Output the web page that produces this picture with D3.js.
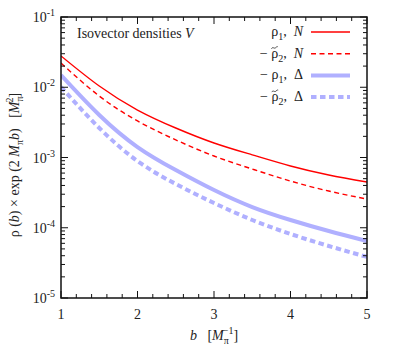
<!DOCTYPE html>
<html>
<head>
<meta charset="utf-8">
<script src="https://cdn.jsdelivr.net/npm/d3@7"></script>
<style>
  body { margin: 0; background: #fff; }
  svg text { font-family: "Liberation Serif", "Times New Roman", "DejaVu Serif", serif; fill: #222; }
</style>
</head>
<body>
<div id="chart"></div>
<script>
// values
var bValues = [1, 1.5, 2, 2.5, 3, 3.5, 4, 4.5, 5];
var rho1N = [2.79e-2, 1.04e-2, 4.74e-3, 2.63e-3, 1.61e-3, 1.09e-3, 7.57e-4, 5.64e-4, 4.48e-4];
var rho2N = [2.21e-2, 7.50e-3, 3.31e-3, 1.78e-3, 1.05e-3, 6.85e-4, 4.62e-4, 3.33e-4, 2.56e-4];
var rho1D = [1.49e-2, 4.03e-3, 1.41e-3, 6.63e-4, 3.44e-4, 1.97e-4, 1.29e-4, 8.99e-5, 6.48e-5];
var rho2D = [1.01e-2, 2.63e-3, 8.91e-4, 4.20e-4, 2.25e-4, 1.29e-4, 8.15e-5, 5.50e-5, 3.84e-5];
var xTicks = [1, 2, 3, 4, 5];
var yExps = [-1, -2, -3, -4, -5];

var svgWidth = 399, svgHeight = 359;
var margin = {top: 17, right: 32, bottom: 61, left: 61};
var width = svgWidth - margin.left - margin.right;
var height = svgHeight - margin.top - margin.bottom;
var serif = "Liberation Serif, Times New Roman, serif";

var svg = d3.select("#chart").append("svg")
  .attr("width", svgWidth)
  .attr("height", svgHeight)
  .attr("font-family", serif);

var g = svg.append("g")
  .attr("transform", `translate(${margin.left}, ${margin.top})`);

var x = d3.scaleLinear().domain([1, 5]).range([0, width]);
var y = d3.scaleLog().domain([1e-5, 1e-1]).range([height, 0]);

var red = "#ff0000", blue = "#b0b0ff";

var series = [
  {vals: rho1N, color: red, w: 1.4, dash: null},
  {vals: rho2N, color: red, w: 1.4, dash: "5,3.5"},
  {vals: rho1D, color: blue, w: 4, dash: null},
  {vals: rho2D, color: blue, w: 4, dash: "5.5,3.5"}
];

var line = d3.line()
  .x(d => x(d[0]))
  .y(d => y(d[1]))
  .curve(d3.curveNatural);

g.append("clipPath").attr("id", "clip")
  .append("rect").attr("width", width).attr("height", height);

series.forEach(function(s) {
  g.append("path")
    .datum(bValues.map((b, i) => [b, s.vals[i]]))
    .attr("clip-path", "url(#clip)")
    .attr("fill", "none")
    .attr("stroke", s.color)
    .attr("stroke-width", s.w)
    .attr("stroke-dasharray", s.dash)
    .attr("d", line);
});

// ticks inside, on all four sides
var minorX = d3.range(1, 5.001, 0.2);
var minorY = [];
yExps.forEach(function(e) {
  for (var k = 2; k <= 9; k++) {
    var v = k * Math.pow(10, e);
    if (v < 1e-1) minorY.push(v);
  }
});

minorX.forEach(function(v) {
  var major = xTicks.some(t => Math.abs(t - v) < 1e-6);
  var len = major ? 7 : 4;
  g.append("line").attr("x1", x(v)).attr("x2", x(v)).attr("y1", height).attr("y2", height - len)
    .attr("stroke", "#111").attr("stroke-width", 1);
  g.append("line").attr("x1", x(v)).attr("x2", x(v)).attr("y1", 0).attr("y2", len)
    .attr("stroke", "#111").attr("stroke-width", 1);
});

yExps.forEach(function(e) {
  var v = Math.pow(10, e);
  g.append("line").attr("x1", 0).attr("x2", 7).attr("y1", y(v)).attr("y2", y(v))
    .attr("stroke", "#111").attr("stroke-width", 1);
  g.append("line").attr("x1", width).attr("x2", width - 7).attr("y1", y(v)).attr("y2", y(v))
    .attr("stroke", "#111").attr("stroke-width", 1);
});
minorY.forEach(function(v) {
  g.append("line").attr("x1", 0).attr("x2", 4).attr("y1", y(v)).attr("y2", y(v))
    .attr("stroke", "#111").attr("stroke-width", 1);
  g.append("line").attr("x1", width).attr("x2", width - 4).attr("y1", y(v)).attr("y2", y(v))
    .attr("stroke", "#111").attr("stroke-width", 1);
});

g.append("rect")
  .attr("width", width).attr("height", height)
  .attr("fill", "none").attr("stroke", "#111").attr("stroke-width", 1.5);

// tick labels
xTicks.forEach(function(t) {
  g.append("text")
    .attr("x", x(t)).attr("y", height + 21)
    .attr("text-anchor", "middle")
    .attr("font-size", 14)
    .text(t);
});

yExps.forEach(function(e) {
  var t = g.append("text")
    .attr("x", -6).attr("y", y(Math.pow(10, e)) + 5)
    .attr("text-anchor", "end")
    .attr("font-size", 14);
  t.append("tspan").text("10");
  t.append("tspan").attr("dy", -6).attr("font-size", 10).text("-" + (-e));
});

// axis labels
var xl = svg.append("text")
  .attr("x", margin.left + width / 2).attr("y", 340)
  .attr("text-anchor", "middle")
  .attr("font-size", 14);
xl.append("tspan").attr("font-style", "italic").text("b");
xl.append("tspan").text("\u2002 [");
xl.append("tspan").attr("font-style", "italic").text("M");
xl.append("tspan").attr("dy", 4).attr("font-size", 10).text("\u03c0");
xl.append("tspan").attr("dy", -10).attr("dx", -6).attr("font-size", 10).text("\u22121");
xl.append("tspan").attr("dy", 6).text("]");

var yl = svg.append("text")
  .attr("transform", "translate(19, 165) rotate(-90)")
  .attr("text-anchor", "middle")
  .attr("font-size", 14);
yl.append("tspan").text("\u03c1 (");
yl.append("tspan").attr("font-style", "italic").text("b");
yl.append("tspan").text(") \u00d7 exp (2 ");
yl.append("tspan").attr("font-style", "italic").text("M");
yl.append("tspan").attr("dy", 4).attr("font-size", 10).text("\u03c0");
yl.append("tspan").attr("dy", -4).attr("font-style", "italic").text("b");
yl.append("tspan").text(")\u2002 [");
yl.append("tspan").attr("font-style", "italic").text("M");
yl.append("tspan").attr("dy", 4).attr("font-size", 10).text("\u03c0");
yl.append("tspan").attr("dy", -10).attr("dx", -6).attr("font-size", 10).text("2");
yl.append("tspan").attr("dy", 6).text("]");

// title inside plot
var title = g.append("text")
  .attr("x", 16).attr("y", 21)
  .attr("font-size", 14);
title.append("tspan").text("Isovector densities ");
title.append("tspan").attr("font-style", "italic").text("V");

// legend
var legendNames = [
  {pre: "", tilde: false, sub: "1", part: "N", italic: true},
  {pre: "\u2212 ", tilde: true, sub: "2", part: "N", italic: true},
  {pre: "\u2212 ", tilde: false, sub: "1", part: "\u0394", italic: false},
  {pre: "\u2212 ", tilde: true, sub: "2", part: "\u0394", italic: false}
];

legendNames.forEach(function(n, i) {
  var ly = 15 + i * 21.7;
  var t = g.append("text")
    .attr("x", 242).attr("y", ly + 4)
    .attr("text-anchor", "end")
    .attr("font-size", 14);
  t.append("tspan").text(n.pre + "\u03c1");
  t.append("tspan").attr("dy", 4).attr("font-size", 10).text(n.sub);
  t.append("tspan").attr("dy", -4).text(",\u2002");
  t.append("tspan").attr("font-style", n.italic ? "italic" : null).text(n.part);
  if (n.tilde) {
    // tilde accent drawn over the rho
    var ext = t.node().getExtentOfChar(n.pre.length);
    var cx = ext.x + ext.width / 2, cy = ly - 6;
    g.append("path")
      .attr("d", `M${cx - 3.2},${cy + 1} C${cx - 1.8},${cy - 1.5} ${cx - 0.5},${cy + 1.5} ${cx + 1},${cy} S${cx + 2.6},${cy - 1} ${cx + 3.2},${cy - 1}`)
      .attr("fill", "none")
      .attr("stroke", "#222")
      .attr("stroke-width", 0.8);
  }
  g.append("line")
    .attr("x1", 250).attr("x2", 289)
    .attr("y1", ly).attr("y2", ly)
    .attr("stroke", series[i].color)
    .attr("stroke-width", series[i].w)
    .attr("stroke-dasharray", series[i].dash);
});
</script>
</body>
</html>
